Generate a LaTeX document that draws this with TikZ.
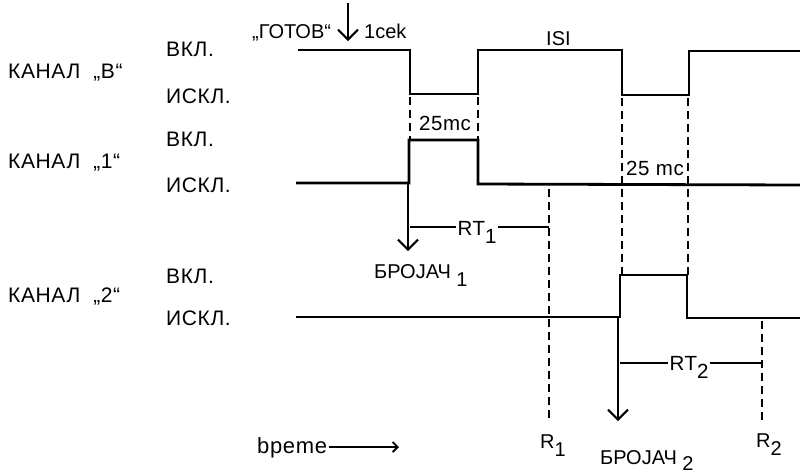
\documentclass[tikz,border=0pt]{standalone}
\usepackage{fontspec}
\setmainfont{Liberation Sans}
\newfontfamily\wf[LetterSpace=3]{Liberation Sans}
\usetikzlibrary{arrows.meta}
\newcommand{\lowsub}[1]{\raisebox{-8pt}{#1}}
\begin{document}
\begin{tikzpicture}[x=1pt,y=-1pt,
  lbl/.style={font=\wf\fontsize{21}{21}\selectfont, inner sep=0pt, anchor=base west},
  nlbl/.style={font=\fontsize{20}{20}\selectfont, inner sep=0pt, anchor=base west},
  clbl/.style={font=\wf\fontsize{20.5}{21}\selectfont, inner sep=0pt, anchor=base},
  sig/.style={line width=2.8pt, line join=miter},
  dsh/.style={line width=2.2pt, dash pattern=on 8pt off 5pt},
  thinln/.style={line width=1.3pt},
  downarrow/.style={line width=2pt, -{Straight Barb[length=10pt,width=20pt,line width=2pt]}},
  timearrow/.style={line width=1.8pt, -{Straight Barb[length=5pt,width=10pt,line width=1.8pt]}}
]
\useasboundingbox (0,0) rectangle (800,475);

% channel labels
\node[lbl] (kb) at (8,78) {КАНАЛ \ „В“};
\node[lbl] (k1) at (8,168) {КАНАЛ \ „1“};
\node[lbl] (k2) at (8,302) {КАНАЛ \ „2“};
\node[lbl] (vb) at (166,56) {ВКЛ.};
\node[lbl] (ib) at (166,103) {ИСКЛ.};
\node[lbl] (v1) at (166,146) {ВКЛ.};
\node[lbl] (i1) at (166,192) {ИСКЛ.};
\node[lbl] (v2) at (166,283) {ВКЛ.};
\node[lbl] (i2) at (166,325) {ИСКЛ.};

% top labels
\node[nlbl] (gotov) at (252,38) {„ГОТОВ“};
\node[nlbl] (sek) at (364,38) {1cek};
\node[nlbl] (isi) at (546,45) {ISI};
\coordinate (ga) at (348,3);
\coordinate (gb) at (348,41);
\draw[downarrow] (ga) -- (gb);

% channel B waveform
\draw[sig] (298,50) -- (410,50) -- (410,94) -- (478,94) -- (478,50) -- (622,50)
  -- (622,95) -- (689,95) -- (689,51) -- (800,51);
% channel 1 waveform
\draw[sig] (296,183) -- (409,183) -- (409,140) -- (478,140) -- (478,184) -- (800,185);
% channel 2 waveform
\draw[sig] (296,317) -- (620,317) -- (620,275) -- (687,275) -- (687,318) -- (800,318);

% dashed verticals
\draw[dsh] (410,97) -- (410,139);
\draw[dsh] (478,97) -- (478,139);
\draw[dsh] (622,98) -- (622,275);
\draw[dsh] (688,98) -- (688,275);
\coordinate (r1top) at (549,189);
\coordinate (r1bot) at (549,421);
\draw[dsh] (r1top) -- (r1bot);
\coordinate (r2top) at (762,321);
\coordinate (r2bot) at (762,422);
\draw[dsh] (r2top) -- (r2bot);

\node[clbl] (t25a) at (445,130) {25mc};
\node[clbl] (t25b) at (655,175) {25 mc};

% counters
\coordinate (b1a) at (408,184);
\coordinate (b1b) at (408,251);
\draw[downarrow] (b1a) -- (b1b);
\node[nlbl] (br1) at (374,278) {БРОЈАЧ\ \lowsub{1}};
\coordinate (b2a) at (618,318);
\coordinate (b2b) at (618,421);
\draw[downarrow] (b2a) -- (b2b);
\node[nlbl] (br2) at (600,464) {БРОЈАЧ\ \raisebox{-6pt}{2}};

% RT
\node[clbl, inner xsep=1pt] (rt1) at (477,235) {RT\lowsub{1}};
\coordinate (rt1a) at (410,227);
\coordinate (rt1b) at (549,227);
\draw[thinln] (rt1a) -- (rt1.west |- rt1a);
\draw[thinln] (rt1.east |- rt1b) -- (rt1b);
\node[clbl, inner xsep=1pt] (rt2) at (689,370) {RT\lowsub{2}};
\coordinate (rt2a) at (620,363);
\coordinate (rt2b) at (762,363);
\draw[thinln] (rt2a) -- (rt2.west |- rt2a);
\draw[thinln] (rt2.east |- rt2b) -- (rt2b);

\node[nlbl] (r1) at (540,448) {R\lowsub{1}};
\node[nlbl] (r2) at (756,447) {R\lowsub{2}};

% time
\node[lbl, font=\wf\fontsize{22}{22}\selectfont] (vreme) at (257,453) {bpeme};
\coordinate (tend) at (399,447);
\draw[timearrow] (vreme.east |- tend) ++(2,0) -- (tend);
\end{tikzpicture}
\end{document}
